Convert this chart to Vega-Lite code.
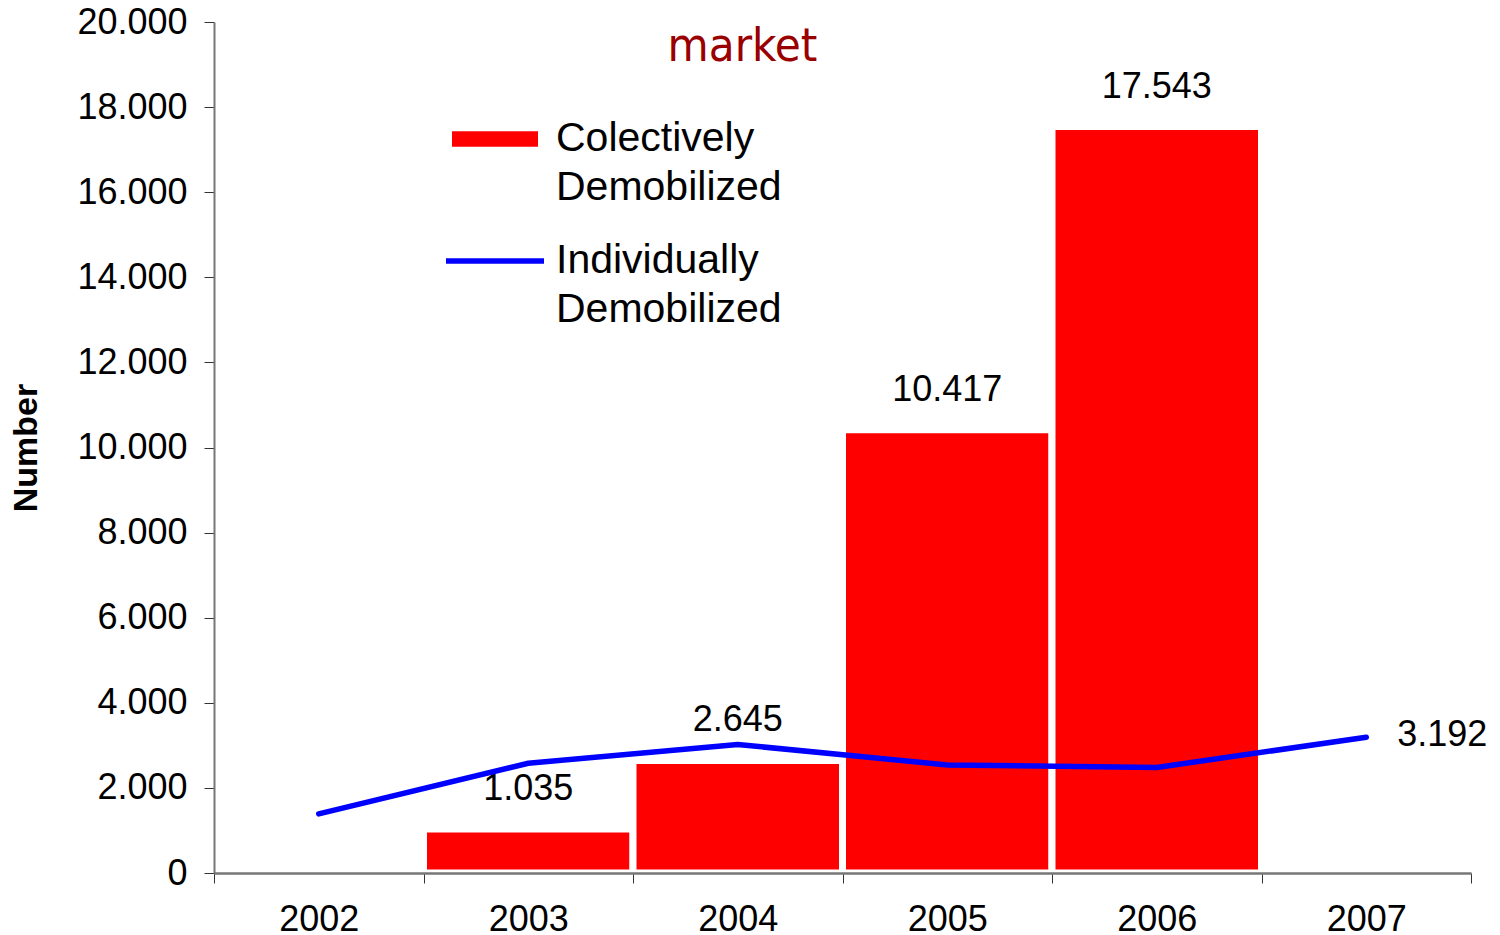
{
  "$schema": "https://vega.github.io/schema/vega-lite/v6.json",
  "width": 1257,
  "height": 851,
  "autosize": {"type": "none"},
  "padding": {"left": 214, "top": 22, "right": 29, "bottom": 62},
  "background": "white",
  "title": {
    "text": "market",
    "font": "DejaVu Sans Condensed, Liberation Sans Narrow, Liberation Sans",
    "fontSize": 47,
    "fontWeight": "normal",
    "color": "#990000",
    "anchor": "middle",
    "offset": -67,
    "dx": -100
  },
  "data": {
    "values": [
      {"year": "2002", "colectively": null, "individually": 1390},
      {"year": "2003", "colectively": 1035, "individually": 2580},
      {"year": "2004", "colectively": 2645, "individually": 3020},
      {"year": "2005", "colectively": 10417, "individually": 2540},
      {"year": "2006", "colectively": 17543, "individually": 2480},
      {"year": "2007", "colectively": null, "individually": 3192}
    ]
  },
  "encoding": {
    "x": {
      "field": "year",
      "type": "nominal",
      "scale": {"domain": ["2002", "2003", "2004", "2005", "2006", "2007"], "paddingInner": 0, "paddingOuter": 0},
      "axis": {
        "title": null,
        "zindex": 1,
        "labelAngle": 0,
        "labelFont": "Liberation Sans",
        "labelFontSize": 36,
        "labelColor": "black",
        "labelPadding": 19,
        "tickBand": "extent",
        "tickSize": 10,
        "tickColor": "#333333",
        "domainColor": "#777777",
        "domainWidth": 2.5,
        "grid": false
      }
    }
  },
  "layer": [
    {
      "mark": {"type": "bar", "stroke": "white", "strokeWidth": 7},
      "encoding": {
        "y": {
          "field": "colectively",
          "type": "quantitative",
          "scale": {"domain": [0, 20000], "nice": false},
          "axis": {
            "title": "Number",
            "titleFont": "Liberation Sans",
            "titleFontSize": 34,
            "titleFontWeight": "bold",
            "titleColor": "black",
            "titlePadding": 33,
            "values": [0, 2000, 4000, 6000, 8000, 10000, 12000, 14000, 16000, 18000, 20000],
            "format": ",d",
            "labelFont": "Liberation Sans",
            "labelFontSize": 36,
            "labelColor": "black",
            "labelPadding": 17,
            "tickSize": 10,
            "tickColor": "#333333",
            "domainColor": "#777777",
            "domainWidth": 2,
            "grid": false
          }
        },
        "fill": {
          "datum": "Colectively Demobilized",
          "scale": {"range": ["#ff0000"]},
          "legend": {
            "orient": "none",
            "legendX": 238,
            "legendY": 74,
            "title": null,
            "padding": 0,
            "symbolType": "M-1,-0.18L1,-0.18L1,0.18L-1,0.18Z",
            "symbolSize": 7396,
            "symbolStrokeWidth": 0,
            "symbolStrokeColor": "transparent",
            "labelExpr": "split(datum.label, ' ')",
            "labelFont": "Liberation Sans",
            "labelFontSize": 41,
            "labelColor": "black",
            "labelLimit": 0,
            "labelOffset": 18
          }
        }
      }
    },
    {
      "mark": {"type": "text", "baseline": "alphabetic", "dy": -29, "font": "Liberation Sans", "fontSize": 36, "color": "black"},
      "encoding": {
        "y": {"field": "colectively", "type": "quantitative"},
        "text": {"field": "colectively", "type": "quantitative", "format": ",d"}
      }
    },
    {
      "mark": {"type": "line", "strokeWidth": 5.5, "strokeCap": "round", "strokeJoin": "round"},
      "encoding": {
        "y": {"field": "individually", "type": "quantitative"},
        "stroke": {
          "datum": "Individually Demobilized",
          "scale": {"range": ["#0000ff"]},
          "legend": {
            "orient": "none",
            "legendX": 229,
            "legendY": 187,
            "title": null,
            "padding": 0,
            "symbolType": "stroke",
            "symbolSize": 9604,
            "symbolStrokeWidth": 5.5,
            "labelExpr": "split(datum.label, ' ')",
            "labelFont": "Liberation Sans",
            "labelFontSize": 41,
            "labelColor": "black",
            "labelLimit": 0,
            "labelOffset": 9
          }
        }
      }
    },
    {
      "transform": [{"filter": "datum.year == '2007'"}],
      "mark": {"type": "text", "align": "left", "baseline": "middle", "dx": 31, "dy": -2, "font": "Liberation Sans", "fontSize": 36, "color": "black"},
      "encoding": {
        "y": {"field": "individually", "type": "quantitative"},
        "text": {"field": "individually", "type": "quantitative", "format": ",d"}
      }
    }
  ],
  "config": {
    "view": {"stroke": null},
    "style": {"guide-label": {"lineHeight": 49}},
    "locale": {
      "number": {"decimal": ",", "thousands": ".", "grouping": [3], "currency": ["", ""]}
    }
  }
}
